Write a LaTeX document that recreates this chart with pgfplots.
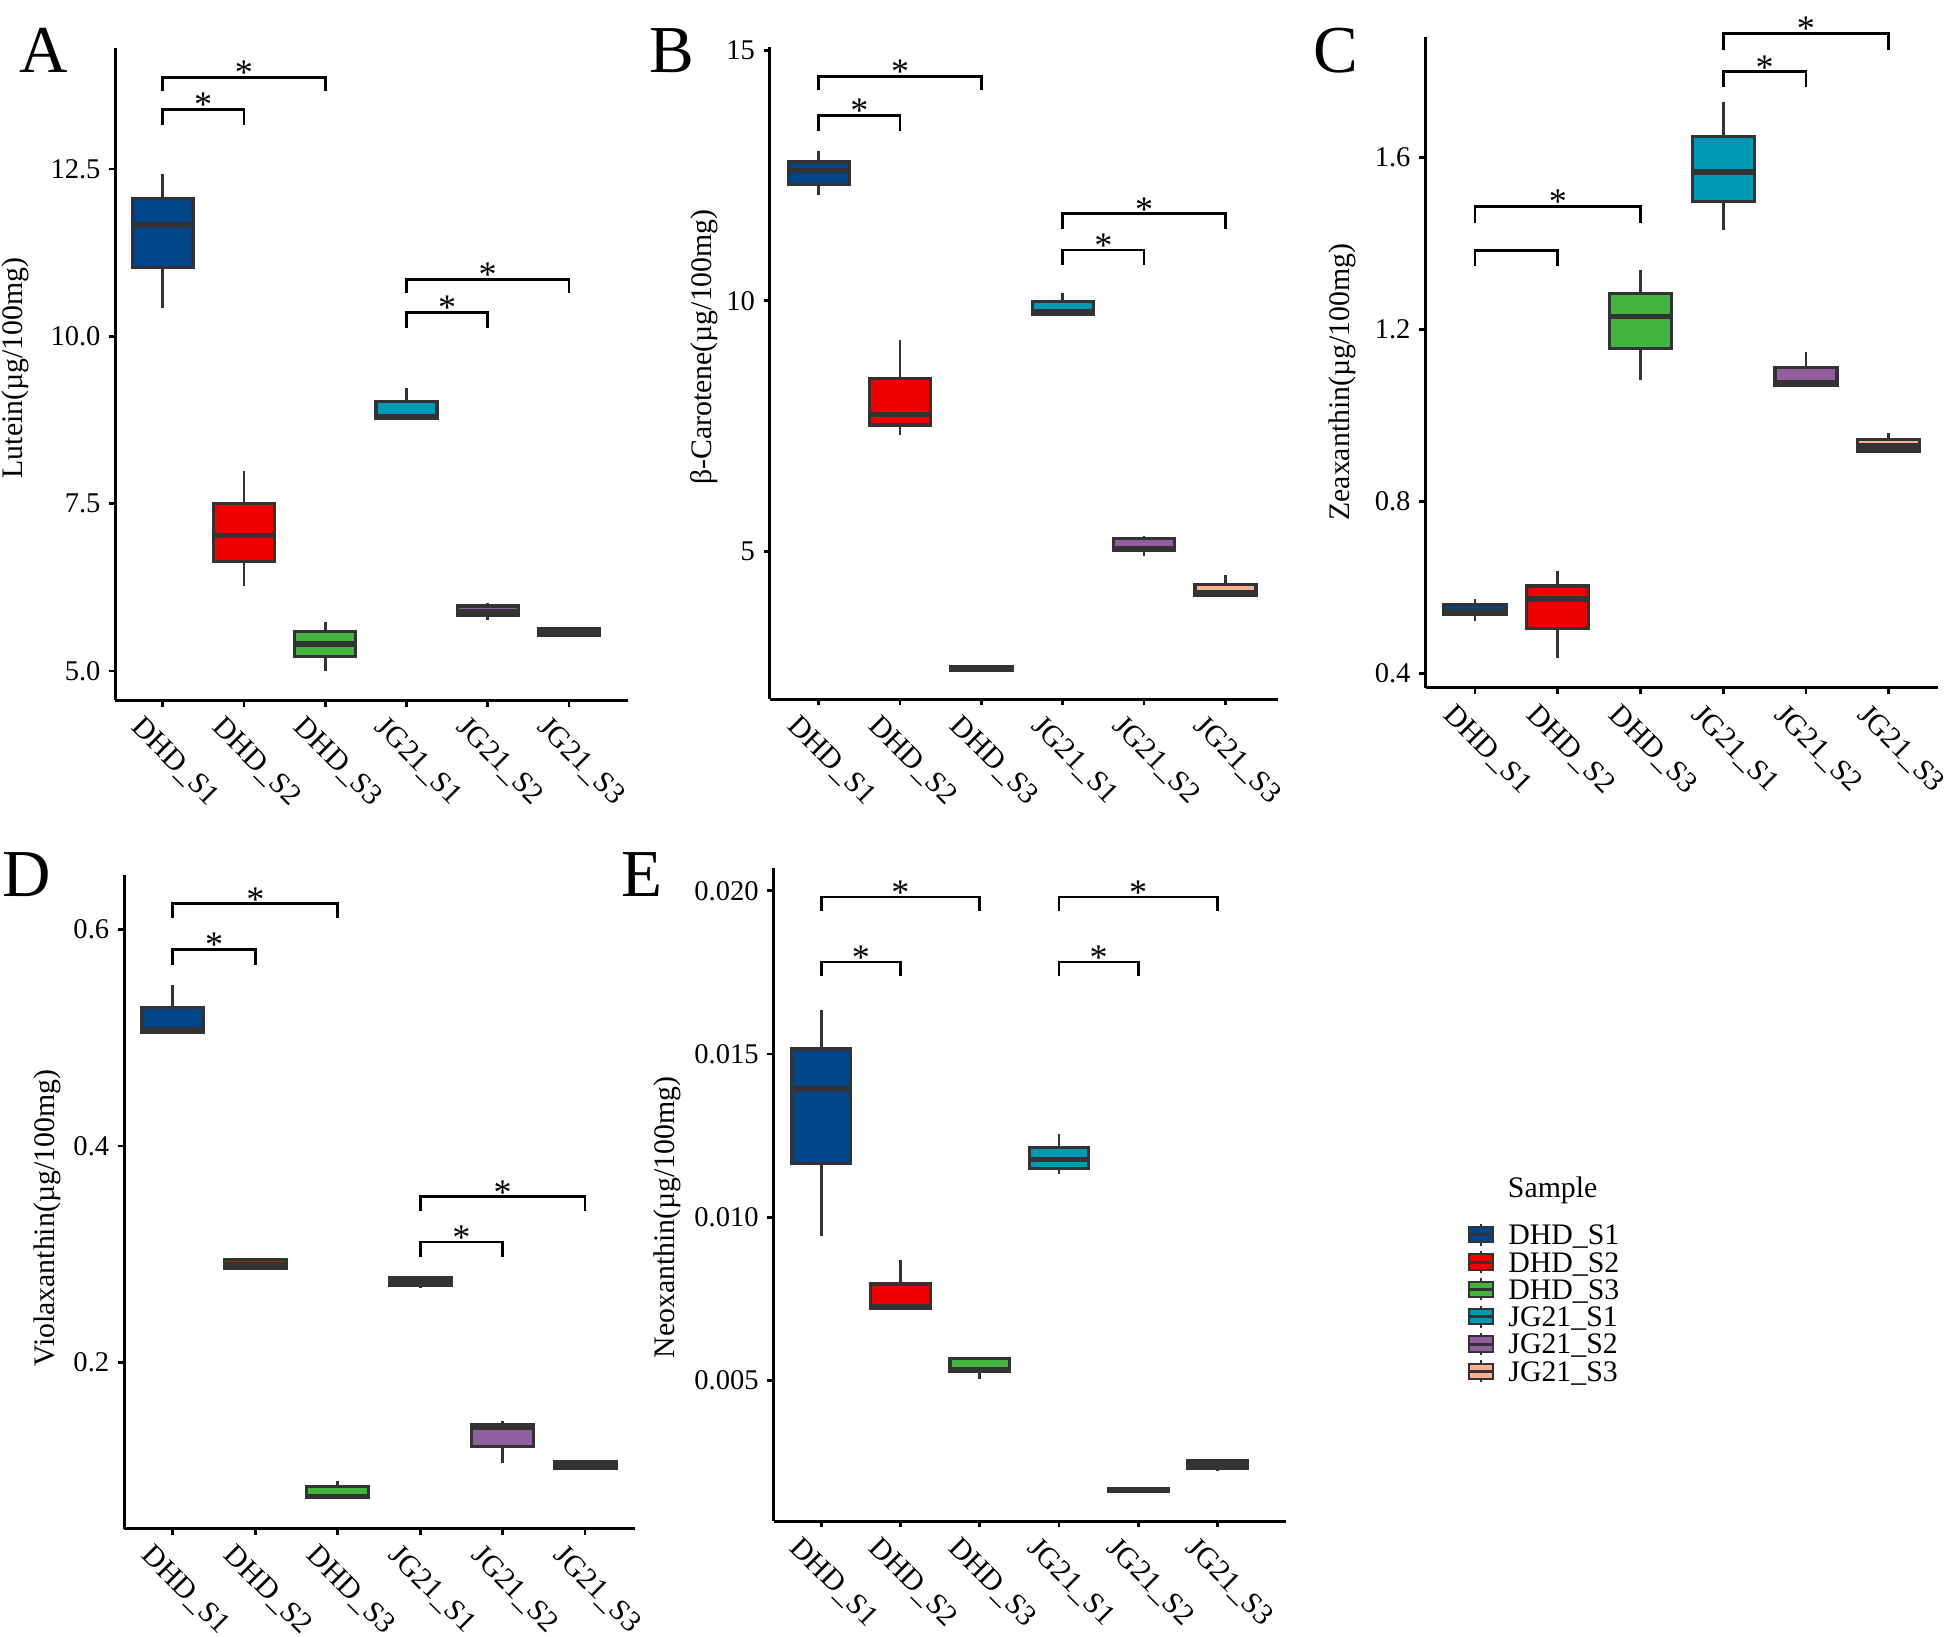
\documentclass[border=0pt]{standalone}
\usepackage{fontspec}
\setmainfont{Liberation Serif}
\usepackage{pgfplots}
\pgfplotsset{compat=1.18}
\usepackage{pgfplotstable}
\usepgfplotslibrary{statistics}

\definecolor{c0}{HTML}{00468B}
\definecolor{c1}{HTML}{ED0000}
\definecolor{c2}{HTML}{42B540}
\definecolor{c3}{HTML}{0099B4}
\definecolor{c4}{HTML}{925E9F}
\definecolor{c5}{HTML}{FDAF91}
\definecolor{bord}{HTML}{333333}

\pgfplotstableread{
lw lq med uq uw
10.42 11.03 11.66 12.06 12.43
6.27 6.64 7.02 7.50 7.98
5.00 5.21 5.40 5.59 5.73
8.77 8.77 8.80 9.03 9.23
5.76 5.83 5.89 5.97 6.02
5.51 5.53 5.58 5.63 5.66
}\dataA

\pgfplotstableread{
lw lq med uq uw
12.12 12.32 12.60 12.77 12.98
7.33 7.52 7.73 8.45 9.21
2.60 2.62 2.66 2.70 2.72
9.69 9.72 9.78 9.98 10.15
4.90 5.01 5.05 5.25 5.30
4.11 4.11 4.17 4.34 4.52
}\dataB

\pgfplotstableread{
lw lq med uq uw
0.522 0.536 0.543 0.560 0.572
0.436 0.505 0.573 0.603 0.637
1.083 1.155 1.230 1.283 1.338
1.430 1.497 1.566 1.648 1.729
1.070 1.070 1.076 1.111 1.147
0.915 0.917 0.929 0.943 0.959
}\dataC

\pgfplotstableread{
lw lq med uq uw
0.505 0.505 0.507 0.528 0.549
0.285 0.287 0.290 0.295 0.296
0.0753 0.0753 0.076 0.085 0.0907
0.269 0.2713 0.275 0.2785 0.2785
0.1066 0.122 0.140 0.1427 0.146
0.1003 0.1023 0.105 0.1085 0.1085
}\dataD

\pgfplotstableread{
lw lq med uq uw
0.00943 0.01166 0.01393 0.01516 0.01635
0.00720 0.00720 0.00726 0.00796 0.00871
0.00505 0.00529 0.00535 0.00567 0.00567
0.01134 0.01150 0.01178 0.01213 0.01255
0.00159 0.00160 0.00166 0.00170 0.00172
0.00223 0.00231 0.00243 0.00255 0.00258
}\dataE

% one box from row #2 of table #1, filled with colour #3
\newcommand{\boxrow}[3]{%
  \pgfplotstablegetelem{#2}{lw}\of#1\let\vlw\pgfplotsretval
  \pgfplotstablegetelem{#2}{lq}\of#1\let\vlq\pgfplotsretval
  \pgfplotstablegetelem{#2}{med}\of#1\let\vmed\pgfplotsretval
  \pgfplotstablegetelem{#2}{uq}\of#1\let\vuq\pgfplotsretval
  \pgfplotstablegetelem{#2}{uw}\of#1\let\vuw\pgfplotsretval
  \pgfmathtruncatemacro\vpos{#2+1}%
  \edef\doplot{\noexpand\addplot[fill=#3, boxplot prepared={draw position=\vpos,
     lower whisker=\vlw, lower quartile=\vlq, median=\vmed,
     upper quartile=\vuq, upper whisker=\vuw}] coordinates {};}%
  \doplot
}

\pgfplotsset{
  panel/.style={
    scale only axis,
    anchor=south west,
    axis x line*=bottom, axis y line*=left,
    axis line style={line width=1.2pt, black},
    tick align=outside,
    major tick length=2.5pt,
    major tick style={black, line width=1.1pt},
    minor tick num=0,
    xtick={1,2,3,4,5,6},
    xticklabels={DHD\_S1,DHD\_S2,DHD\_S3,JG21\_S1,JG21\_S2,JG21\_S3},
    xticklabel style={font=\fontsize{12}{12}\selectfont, inner sep=0pt, xshift=-7.5pt, yshift=-3pt, rotate=-45, anchor=north west},
    yticklabel style={font=\fontsize{11.5}{11.5}\selectfont},
    ylabel style={font=\fontsize{12}{12}\selectfont, anchor=center},
    /pgf/number format/assume math mode=true,
    scaled y ticks=false,
    clip=false,
    boxplot/draw direction=y,
    boxplot/box extend=0.75,
    boxplot/whisker extend=0,
    boxplot/every median/.style={draw=bord, line width=2.2pt},
    boxplot/every whisker/.style={draw=bord, line width=1.1pt},
    boxplot/every box/.style={draw=bord, line width=1.3pt},
  },
  brk/.style={black, line width=1.1pt},
}
\tikzset{star/.style={anchor=base, yshift=-3pt, inner sep=0pt, font=\fontsize{14.5}{14.5}\selectfont}}

\begin{document}
\begin{tikzpicture}
\useasboundingbox (0pt,0pt) rectangle (784pt,-659pt);

% ---------------- A
\begin{axis}[panel, at={(46.5pt,-282pt)}, width=206.5pt, height=262.5pt,
  xmin=0.42, xmax=6.73, ymin=4.56, ymax=14.30,
  ytick={5,7.5,10,12.5}, yticklabels={5.0,7.5,10.0,12.5},
  ylabel={Lutein(µg/100mg)}, ylabel style={at={(axis description cs:-0.196,0.51)}}]
\boxrow{\dataA}{0}{c0}\boxrow{\dataA}{1}{c1}\boxrow{\dataA}{2}{c2}
\boxrow{\dataA}{3}{c3}\boxrow{\dataA}{4}{c4}\boxrow{\dataA}{5}{c5}
\addplot[brk] coordinates {(1,13.16) (1,13.39) (2,13.39) (2,13.16)};
\addplot[brk] coordinates {(1,13.66) (1,13.87) (3,13.87) (3,13.66)};
\addplot[brk] coordinates {(4,10.13) (4,10.36) (5,10.36) (5,10.13)};
\addplot[brk] coordinates {(4,10.65) (4,10.85) (6,10.85) (6,10.65)};
\node[star] at (axis cs:1.5,13.39) {*};
\node[star] at (axis cs:2,13.87) {*};
\node[star] at (axis cs:4.5,10.36) {*};
\node[star] at (axis cs:5,10.85) {*};
\end{axis}

% ---------------- B
\begin{axis}[panel, at={(310pt,-281.5pt)}, width=204.75pt, height=262.5pt,
  xmin=0.4, xmax=6.65, ymin=2.05, ymax=15.06,
  ytick={5,10,15}, yticklabels={5,10,15},
  ylabel={β-Carotene(µg/100mg)}, ylabel style={at={(axis description cs:-0.13,0.54)}}]
\boxrow{\dataB}{0}{c0}\boxrow{\dataB}{1}{c1}\boxrow{\dataB}{2}{c2}
\boxrow{\dataB}{3}{c3}\boxrow{\dataB}{4}{c4}\boxrow{\dataB}{5}{c5}
\addplot[brk] coordinates {(1,13.39) (1,13.70) (2,13.70) (2,13.39)};
\addplot[brk] coordinates {(1,14.20) (1,14.48) (3,14.48) (3,14.20)};
\addplot[brk] coordinates {(4,10.72) (4,11.01) (5,11.01) (5,10.72)};
\addplot[brk] coordinates {(4,11.43) (4,11.74) (6,11.74) (6,11.43)};
\node[star] at (axis cs:1.5,13.70) {*};
\node[star] at (axis cs:2,14.48) {*};
\node[star] at (axis cs:4.5,11.01) {*};
\node[star] at (axis cs:5,11.74) {*};
\end{axis}

% ---------------- C
\begin{axis}[panel, at={(574pt,-277pt)}, width=206.5pt, height=262pt,
  xmin=0.4, xmax=6.6, ymin=0.366, ymax=1.879,
  ytick={0.4,0.8,1.2,1.6}, yticklabels={0.4,0.8,1.2,1.6},
  ylabel={Zeaxanthin(µg/100mg)}, ylabel style={at={(axis description cs:-0.162,0.47)}}]
\boxrow{\dataC}{0}{c0}\boxrow{\dataC}{1}{c1}\boxrow{\dataC}{2}{c2}
\boxrow{\dataC}{3}{c3}\boxrow{\dataC}{4}{c4}\boxrow{\dataC}{5}{c5}
\addplot[brk] coordinates {(1,1.346) (1,1.384) (2,1.384) (2,1.346)};
\addplot[brk] coordinates {(1,1.448) (1,1.486) (3,1.486) (3,1.448)};
\addplot[brk] coordinates {(4,1.763) (4,1.799) (5,1.799) (5,1.763)};
\addplot[brk] coordinates {(4,1.850) (4,1.888) (6,1.888) (6,1.850)};
\node[star] at (axis cs:2,1.486) {*};
\node[star] at (axis cs:4.5,1.799) {*};
\node[star] at (axis cs:5,1.888) {*};
\end{axis}

% ---------------- D
\begin{axis}[panel, at={(50pt,-615.5pt)}, width=205.5pt, height=263pt,
  xmin=0.41, xmax=6.6, ymin=0.0464, ymax=0.650,
  ytick={0.2,0.4,0.6}, yticklabels={0.2,0.4,0.6},
  ylabel={Violaxanthin(µg/100mg)}, ylabel style={at={(axis description cs:-0.151,0.475)}}]
\boxrow{\dataD}{0}{c0}\boxrow{\dataD}{1}{c1}\boxrow{\dataD}{2}{c2}
\boxrow{\dataD}{3}{c3}\boxrow{\dataD}{4}{c4}\boxrow{\dataD}{5}{c5}
\addplot[brk] coordinates {(1,0.567) (1,0.5817) (2,0.5817) (2,0.567)};
\addplot[brk] coordinates {(1,0.611) (1,0.624) (3,0.624) (3,0.611)};
\addplot[brk] coordinates {(4,0.2977) (4,0.3112) (5,0.3112) (5,0.2977)};
\addplot[brk] coordinates {(4,0.340) (4,0.3531) (6,0.3531) (6,0.340)};
\node[star] at (axis cs:1.5,0.5817) {*};
\node[star] at (axis cs:2,0.624) {*};
\node[star] at (axis cs:4.5,0.3112) {*};
\node[star] at (axis cs:5,0.3531) {*};
\end{axis}

% ---------------- E
\begin{axis}[panel, at={(311.5pt,-612.5pt)}, width=206.5pt, height=263pt,
  xmin=0.4, xmax=6.87, ymin=0.0007, ymax=0.0207,
  ytick={0.005,0.010,0.015,0.020}, yticklabels={0.005,0.010,0.015,0.020},
  ylabel={Neoxanthin(µg/100mg)}, ylabel style={at={(axis description cs:-0.208,0.465)}}]
\boxrow{\dataE}{0}{c0}\boxrow{\dataE}{1}{c1}\boxrow{\dataE}{2}{c2}
\boxrow{\dataE}{3}{c3}\boxrow{\dataE}{4}{c4}\boxrow{\dataE}{5}{c5}
\addplot[brk] coordinates {(1,0.01739) (1,0.01782) (2,0.01782) (2,0.01739)};
\addplot[brk] coordinates {(1,0.01939) (1,0.01981) (3,0.01981) (3,0.01939)};
\addplot[brk] coordinates {(4,0.01739) (4,0.01782) (5,0.01782) (5,0.01739)};
\addplot[brk] coordinates {(4,0.01939) (4,0.01981) (6,0.01981) (6,0.01939)};
\node[star] at (axis cs:1.5,0.01782) {*};
\node[star] at (axis cs:2,0.01981) {*};
\node[star] at (axis cs:4.5,0.01782) {*};
\node[star] at (axis cs:5,0.01981) {*};
\end{axis}

% ---------------- Legend
\begin{axis}[at={(590.8pt,-491.5pt)}, anchor=north west, hide axis, scale only axis,
  width=2pt, height=2pt, xmin=0, xmax=1, ymin=0, ymax=1,
  legend style={at={(0,1)}, anchor=north west, draw=none, fill=none, inner sep=0pt,
    row sep=0pt, font=\fontsize{12}{12}\selectfont, cells={anchor=west},
    nodes={inner sep=0pt},
    /tikz/every odd column/.append style={column sep=5.8pt}},
  legend image code/.code={
    \draw[#1, line width=0.8pt] (0pt,-3.1pt) rectangle (9.4pt,3.1pt);
    \draw[bord, line width=1.2pt] (0pt,0pt) -- (9.4pt,0pt);
    \draw[bord, line width=0.8pt] (4.7pt,3.1pt) -- (4.7pt,4.4pt) (4.7pt,-3.1pt) -- (4.7pt,-4.4pt);
  }]
\addlegendimage{fill=c0, draw=bord}
\addlegendentry{\raisebox{0pt}[9.5pt][2.6pt]{DHD\_S1}}
\addlegendimage{fill=c1, draw=bord}
\addlegendentry{\raisebox{0pt}[9.5pt][2.6pt]{DHD\_S2}}
\addlegendimage{fill=c2, draw=bord}
\addlegendentry{\raisebox{0pt}[9.5pt][2.6pt]{DHD\_S3}}
\addlegendimage{fill=c3, draw=bord}
\addlegendentry{\raisebox{0pt}[9.5pt][2.6pt]{JG21\_S1}}
\addlegendimage{fill=c4, draw=bord}
\addlegendentry{\raisebox{0pt}[9.5pt][2.6pt]{JG21\_S2}}
\addlegendimage{fill=c5, draw=bord}
\addlegendentry{\raisebox{0pt}[9.5pt][2.6pt]{JG21\_S3}}
\end{axis}
\node[anchor=base west, inner sep=0pt, font=\fontsize{12}{12}\selectfont] at (607pt,-482pt) {Sample};

% panel letters
\node[anchor=base west, inner sep=0pt, font=\fontsize{27}{27}\selectfont] at (7.5pt,-29pt) {A};
\node[anchor=base west, inner sep=0pt, font=\fontsize{27}{27}\selectfont] at (261.5pt,-29pt) {B};
\node[anchor=base west, inner sep=0pt, font=\fontsize{27}{27}\selectfont] at (528.5pt,-29pt) {C};
\node[anchor=base west, inner sep=0pt, font=\fontsize{27}{27}\selectfont] at (1pt,-361pt) {D};
\node[anchor=base west, inner sep=0pt, font=\fontsize{27}{27}\selectfont] at (250pt,-361pt) {E};
\end{tikzpicture}
\end{document}
